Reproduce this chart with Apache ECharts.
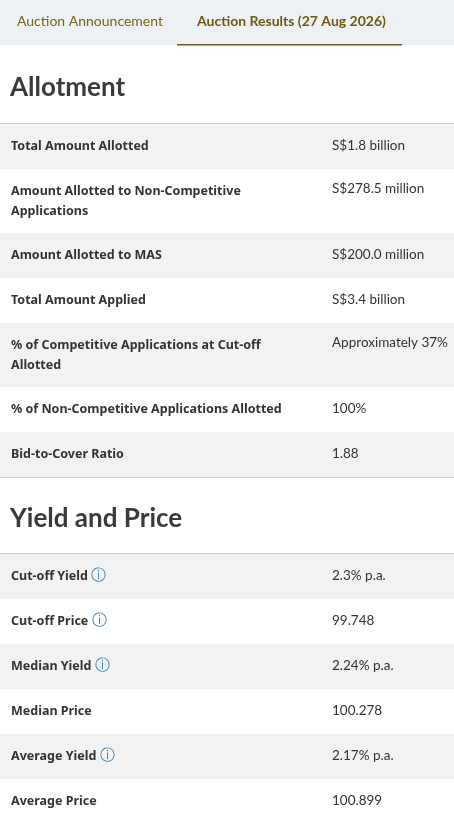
<!DOCTYPE html>
<html><head><meta charset="utf-8">
<script src="https://cdn.jsdelivr.net/npm/echarts@6/dist/echarts.min.js"></script>
<style>html,body{margin:0;padding:0;background:#fff}#c{width:454px;height:820px}</style>
</head><body><div id="c"></div>
<script>
var tabs = ['Auction Announcement', 'Auction Results (27 Aug 2026)'];
var sections = ['Allotment', 'Yield and Price'];
var allotLabels = ['Total Amount Allotted', 'Amount Allotted to Non-Competitive\nApplications', 'Amount Allotted to MAS', 'Total Amount Applied', '% of Competitive Applications at Cut-off\nAllotted', '% of Non-Competitive Applications Allotted', 'Bid-to-Cover Ratio'];
var allotValues = ['S$1.8 billion', 'S$278.5 million', 'S$200.0 million', 'S$3.4 billion', 'Approximately 37%', '100%', '1.88'];
var yieldLabels = ['Cut-off Yield', 'Cut-off Price', 'Median Yield', 'Median Price', 'Average Yield', 'Average Price'];
var yieldValues = ['2.3% p.a.', '99.748', '2.24% p.a.', '100.278', '2.17% p.a.', '100.899'];
var yieldInfo = [true, true, true, false, true, false];

var FONT = 'Lato, "Noto Sans", sans-serif';
var BFONT = '"Noto Sans", Lato, sans-serif';
var els = [];
els.push({type:'rect', shape:{x:0,y:0,width:454,height:45}, style:{fill:'#edf1f4'}});
els.push({type:'text', x:17, y:21, style:{text:tabs[0], font:'14px '+FONT, fill:'#7a6514', verticalAlign:'middle'}});
els.push({type:'text', x:197, y:21, style:{text:tabs[1], font:'bold 14px '+FONT, fill:'#6e5a10', verticalAlign:'middle'}});
els.push({type:'rect', shape:{x:177,y:44,width:225,height:1.5}, style:{fill:'#6e5a1e'}});

function section(title, titleY, lineY, labels, values, info){
  els.push({type:'text', x:10, y:titleY, style:{text:title, font:'bold 26px '+FONT, fill:'#3a3a3a', verticalAlign:'middle'}});
  els.push({type:'rect', shape:{x:0,y:lineY,width:454,height:1}, style:{fill:'#cccccc'}});
  var y = lineY + 1;
  for (var i = 0; i < labels.length; i++) {
    var two = labels[i].indexOf('\n') >= 0;
    var h = two ? 64 : 45;
    if (i === labels.length - 1 && y + h > 820) h = 820 - y;
    els.push({type:'rect', shape:{x:0,y:y,width:454,height:h}, style:{fill: i % 2 === 0 ? '#f2f2f2' : '#ffffff'}});
    var txt = '{b|' + labels[i].replace('\n', '}\n{b|') + '}';
    if (info && info[i]) txt += ' {i|ⓘ}';
    els.push({type:'text', x:11, y: two ? y + 12 : y + 22, style:{text:txt, verticalAlign: two ? 'top' : 'middle',
      rich:{b:{font:'bold 12.5px '+BFONT, fill:'#333333', lineHeight:20}, i:{font:'15px "DejaVu Sans"', fill:'#3c82b8', lineHeight:20}}}});
    els.push({type:'text', x:332, y: two ? y + 13 : y + 22, style:{text:values[i], font:'13.5px '+FONT, fill:'#333333', verticalAlign: two ? 'top' : 'middle'}});
    y += h;
  }
  els.push({type:'rect', shape:{x:0,y:y,width:454,height:1}, style:{fill:'#cccccc'}});
}
section(sections[0], 88, 123, allotLabels, allotValues, null);
section(sections[1], 519, 553, yieldLabels, yieldValues, yieldInfo);

var chart = echarts.init(document.getElementById('c'), null, {renderer:'canvas'});
chart.setOption({animation:false, graphic: els});
</script></body></html>
